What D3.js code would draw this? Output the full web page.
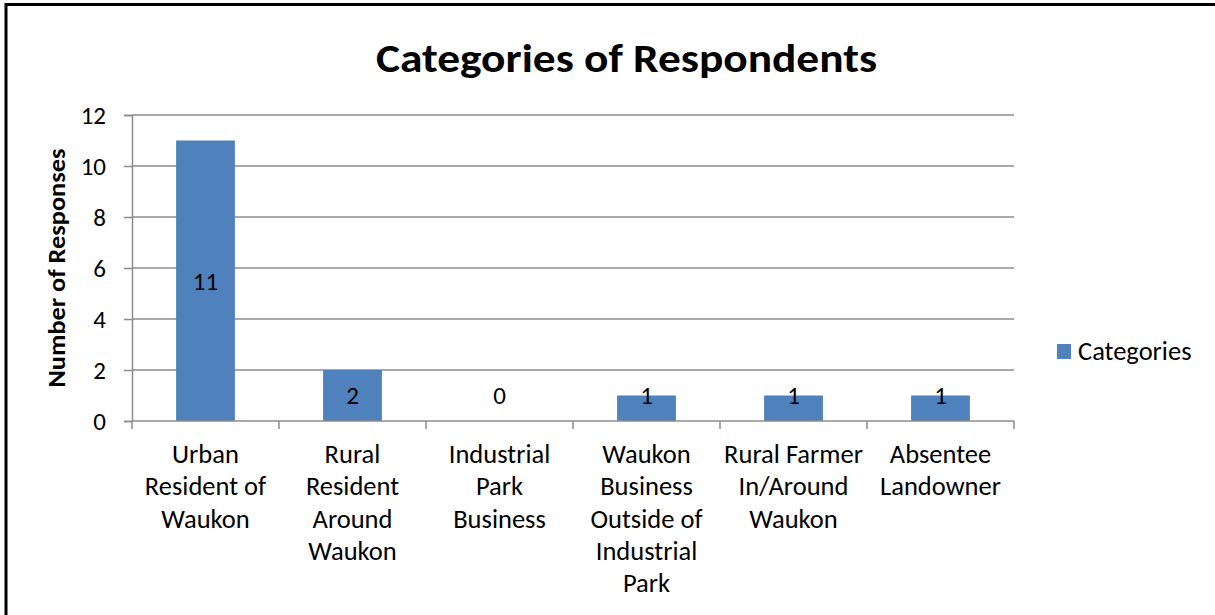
<!DOCTYPE html>
<html>
<head>
<meta charset="utf-8">
<script src="https://cdn.jsdelivr.net/npm/d3@7"></script>
<style>
	body { margin: 0; background: #fff; }
	svg { display: block; font-family: Carlito, Lato, "Open Sans", sans-serif; }
</style>
</head>
<body>
<div id="chart"></div>
<script>
// Categories of Respondents
///

const categories = [
	"Urban Resident of Waukon",
	"Rural Resident Around Waukon",
	"Industrial Park Business",
	"Waukon Business Outside of Industrial Park",
	"Rural Farmer In/Around Waukon",
	"Absentee Landowner"
];
const categoryLines = [
	["Urban", "Resident of", "Waukon"],
	["Rural", "Resident", "Around", "Waukon"],
	["Industrial", "Park", "Business"],
	["Waukon", "Business", "Outside of", "Industrial", "Park"],
	["Rural Farmer", "In/Around", "Waukon"],
	["Absentee", "Landowner"]
];
const responses = [11, 2, 0, 1, 1, 1];
const yTicks = [0, 2, 4, 6, 8, 10, 12];
const seriesName = "Categories";

const w = 1215, h = 615;
const plotLeft = 132, plotRight = 1014, plotTop = 115, plotBottom = 421;
const grey = '#8c8c8c', blue = '#4f81bd';
const fs = 26.5;

let svg = d3.select("#chart").append('svg')
	.attr("width", w)
	.attr("height", h)
	.attr("viewBox", "0 0 " + w + " " + h);

// frame (cropped, only top and left edge visible)
svg.append('path')
	.attr('d', 'M6,' + h + 'V4.5H' + w)
	.attr('fill', 'none')
	.attr('stroke', '#000')
	.attr('stroke-width', 3);

const x = d3.scaleBand()
	.domain(categories)
	.range([plotLeft, plotRight])
	.paddingInner(0.6)
	.paddingOuter(0.3);

const y = d3.scaleLinear()
	.domain([0, 12])
	.range([plotBottom, plotTop]);

// gridlines
svg.append('g').selectAll('line')
	.data(yTicks.filter(function(d){ return d > 0 }))
	.enter().append('line')
	.attr('x1', plotLeft).attr('x2', plotRight)
	.attr('y1', function(d){ return y(d) }).attr('y2', function(d){ return y(d) })
	.attr('stroke', grey).attr('stroke-width', 1.5);

// y axis
let yAxis = svg.append('g')
	.attr('transform', 'translate(' + plotLeft + ',0)')
	.call(d3.axisLeft(y).tickValues(yTicks).tickSize(8).tickPadding(18));
yAxis.select('.domain').attr('stroke', grey).attr('stroke-width', 1.5);
yAxis.selectAll('.tick line').attr('stroke', grey).attr('stroke-width', 1.5);
yAxis.attr('font-family', null).attr('font-size', null);
yAxis.selectAll('.tick text')
	.attr('font-size', 25)
	.attr('fill', '#000');

// bars
svg.append('g').selectAll('rect')
	.data(responses)
	.enter().append('rect')
	.attr('x', function(d, i){ return x(categories[i]) })
	.attr('width', x.bandwidth())
	.attr('y', function(d){ return y(d) })
	.attr('height', function(d){ return y(0) - y(d) })
	.attr('fill', blue);

// x axis
svg.append('line')
	.attr('x1', plotLeft).attr('x2', plotRight)
	.attr('y1', y(0)).attr('y2', y(0))
	.attr('stroke', grey).attr('stroke-width', 1.5);

svg.append('g').selectAll('line')
	.data(d3.range(categories.length + 1))
	.enter().append('line')
	.attr('x1', function(i){ return plotLeft + i * x.step() })
	.attr('x2', function(i){ return plotLeft + i * x.step() })
	.attr('y1', y(0)).attr('y2', y(0) + 8)
	.attr('stroke', grey).attr('stroke-width', 1.5);

// category labels
let catLabels = svg.append('g').selectAll('text')
	.data(categoryLines)
	.enter().append('text')
	.attr('text-anchor', 'middle')
	.attr('font-size', fs)
	.attr('fill', '#000');

catLabels.selectAll('tspan')
	.data(function(d, i){ return d.map(function(s){ return { s: s, i: i } }) })
	.enter().append('tspan')
	.attr('x', function(d){ return x(categories[d.i]) + x.bandwidth() / 2 })
	.attr('y', function(d, j){ return 463 + j * 32.3 })
	.text(function(d){ return d.s });

// data labels
svg.append('g').selectAll('text')
	.data(responses)
	.enter().append('text')
	.attr('x', function(d, i){ return x(categories[i]) + x.bandwidth() / 2 })
	.attr('y', function(d){ return Math.min((y(d) + y(0)) / 2, y(0) - 26) })
	.attr('dy', '0.35em')
	.attr('text-anchor', 'middle')
	.attr('font-size', 25)
	.attr('fill', '#000')
	.text(function(d){ return d });

// title
svg.append('text')
	.attr('x', 626.5)
	.attr('y', 72)
	.attr('text-anchor', 'middle')
	.attr('font-size', 41)
	.attr('font-weight', 'bold')
	.attr('textLength', 501)
	.attr('lengthAdjust', 'spacingAndGlyphs')
	.text('Categories of Respondents');

// y axis title
svg.append('text')
	.attr('transform', 'translate(65,268) rotate(-90)')
	.attr('text-anchor', 'middle')
	.attr('font-size', 24)
	.attr('font-weight', 'bold')
	.attr('textLength', 239)
	.attr('lengthAdjust', 'spacingAndGlyphs')
	.text('Number of Responses');

// legend
let legend = svg.append('g').attr('transform', 'translate(1057,344)');
legend.append('rect').attr('width', 14).attr('height', 15).attr('fill', blue);
legend.append('text')
	.attr('x', 21).attr('y', 16)
	.attr('font-size', fs)
	.text(seriesName);
</script>
</body>
</html>
